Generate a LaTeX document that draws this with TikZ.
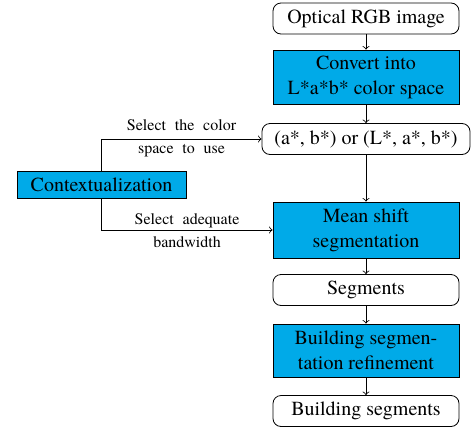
\documentclass[tikz,border=0pt]{standalone}
\usepackage{fontspec}
\setmainfont{TeX Gyre Termes}[Ligatures=TeX]
\definecolor{procblue}{RGB}{0,170,232}
\newcommand\lblfont{\rmfamily\fontsize{8}{9.5}\selectfont\spaceskip 4.4pt plus 1pt\relax}
\begin{document}
\begin{tikzpicture}[x=0.5pt,y=-0.5pt,
  font=\rmfamily\fontsize{10}{12.5}\selectfont,
  io/.style={draw, rounded corners=4pt, minimum width=93pt, minimum height=15.5pt, inner sep=1pt, fill=white},
  proc/.style={draw, fill=procblue, minimum width=93pt, minimum height=27pt, align=center, inner sep=1pt},
  lbl/.style={inner sep=0pt, anchor=base, font=\lblfont},
  arr/.style={->, line width=0.4pt}]
\useasboundingbox (0,0) rectangle (471,429);
\node[io] (in) at (366,18.5) {Optical RGB image};
\node[proc] (conv) at (366,77) {Convert into\\L*a*b* color space};
\node[io, minimum width=104pt] (space) at (366,139) {(a*, b*) or (L*, a*, b*)};
\node[proc, minimum height=28pt] (ms) at (366,230) {Mean shift\\segmentation};
\node[io] (seg) at (366,290) {Segments};
\node[proc, minimum height=26.5pt] (ref) at (366,350.5) {Building segmen-\\tation refinement};
\node[io] (out) at (366,411) {Building segments};
\node[proc, minimum width=84.5pt, minimum height=13.5pt] (ctx) at (101.5,184.5) {Contextualization};
\draw[arr] (in) -- (conv);
\draw[arr] (conv) -- (space);
\draw[arr] (space) -- (ms);
\draw[arr] (ms) -- (seg);
\draw[arr] (seg) -- (ref);
\draw[arr] (ref) -- (out);
\draw[arr] (ctx.north) |- node[lbl, pos=0.75, yshift=4.3pt] {Select the color}
  node[lbl, pos=0.75, yshift=-7.35pt] {space to use} (space.west);
\draw[arr] (ctx.south) |- node[lbl, pos=0.75, yshift=3pt] {Select adequate}
  node[lbl, pos=0.75, yshift=-8.7pt] {bandwidth} (ms.west);
\end{tikzpicture}
\end{document}
